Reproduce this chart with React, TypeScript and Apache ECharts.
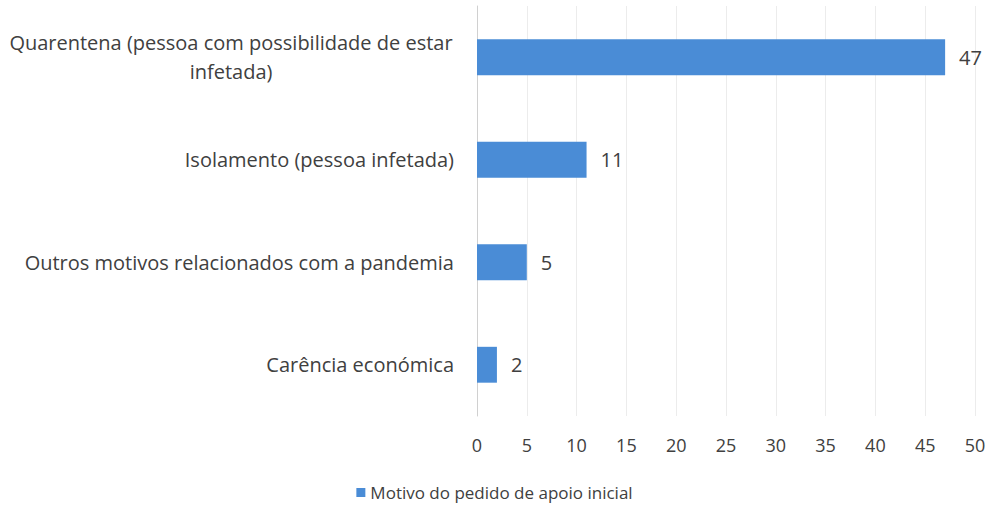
import React, { useEffect, useRef } from "react";
import * as echarts from "echarts";

const categories = [
  "Carência económica",
  "Outros motivos relacionados com a pandemia",
  "Isolamento (pessoa infetada)",
  "Quarentena (pessoa com possibilidade de estar\ninfetada)",
];
const values = [2, 5, 11, 47];
const seriesName = "Motivo do pedido de apoio inicial";
const xTicks = { min: 0, max: 50, interval: 5 };

export default function App() {
  const ref = useRef<HTMLDivElement>(null);
  useEffect(() => {
    if (!ref.current) return;
    const chart = echarts.init(ref.current, undefined, { renderer: "svg" });
    const font = "'Open Sans', 'Noto Sans', sans-serif";
    chart.setOption({
      animation: false,
      textStyle: { fontFamily: font },
      grid: { left: 477, right: 14, top: 6, bottom: 92, containLabel: false },
      legend: {
        bottom: 2,
        left: "center",
        itemWidth: 9,
        itemHeight: 9,
        icon: "rect",
        textStyle: { fontSize: 17, color: "#404040", fontFamily: font },
        data: [seriesName],
      },
      xAxis: {
        type: "value",
        min: xTicks.min,
        max: xTicks.max,
        interval: xTicks.interval,
        axisLine: { show: false },
        axisTick: { show: false },
        splitLine: { show: true, lineStyle: { color: "#ececec", width: 1 } },
        axisLabel: { fontSize: 18, color: "#404040", margin: 20, fontFamily: font },
      },
      yAxis: {
        type: "category",
        data: categories,
        axisLine: { show: true, lineStyle: { color: "#d0d0d0" } },
        axisTick: { show: false },
        axisLabel: {
          margin: 23,
          fontSize: 20,
          color: "#404040",
          fontFamily: font,
          lineHeight: 29,
          formatter: (v: string) => {
            const lines = v.split("\n");
            if (lines.length === 1) return v;
            return lines.map((l) => "{c|" + l + "}").join("\n");
          },
          rich: {
            c: {
              width: 446,
              align: "center",
              fontSize: 20,
              color: "#404040",
              fontFamily: font,
              lineHeight: 29,
            },
          },
        },
      },
      series: [
        {
          name: seriesName,
          type: "bar",
          data: values,
          barWidth: "35%",
          itemStyle: { color: "#4a8cd6" },
          label: {
            show: true,
            position: "right",
            distance: 14,
            fontSize: 20,
            color: "#404040",
            fontFamily: font,
          },
        },
      ],
    });
    return () => chart.dispose();
  }, []);
  return (
    <div
      ref={ref}
      style={{ position: "fixed", left: 0, top: 0, width: 989, height: 508, background: "#fff" }}
    />
  );
}
